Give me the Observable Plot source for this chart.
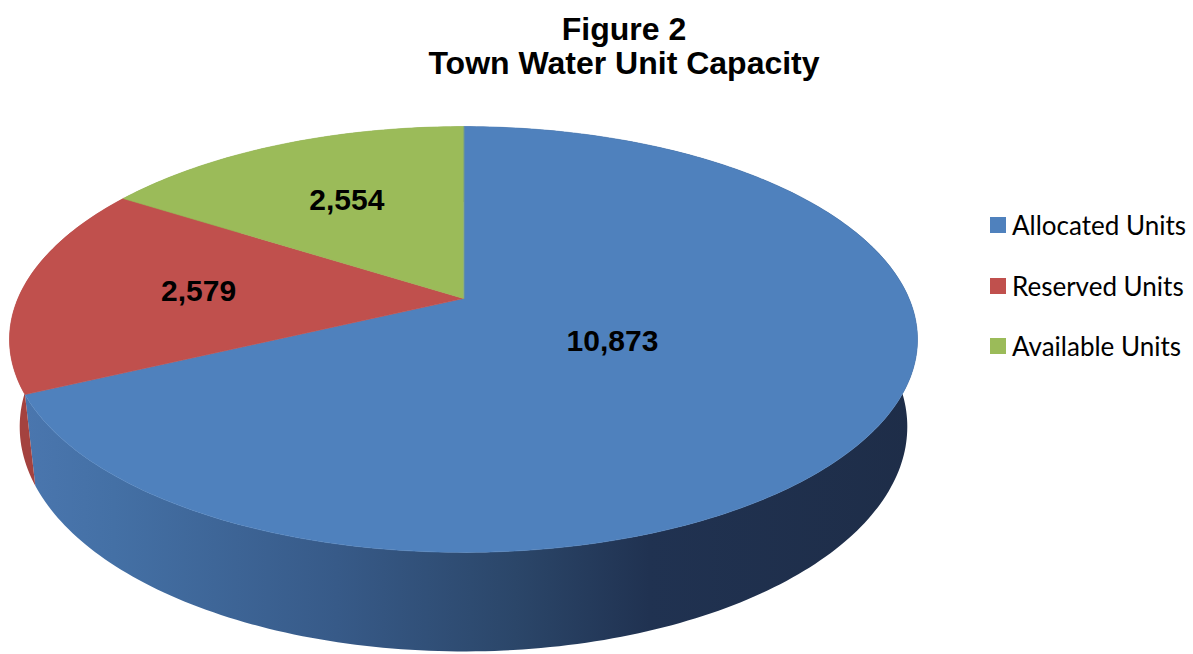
<!DOCTYPE html>
<html><head><meta charset="utf-8">
<script src="https://cdn.jsdelivr.net/npm/d3@7"></script>
<script src="https://cdn.jsdelivr.net/npm/@observablehq/plot@0.6"></script>
<style>
html,body{margin:0;padding:0;background:#fff;overflow:hidden}
#wrap{position:relative;width:1193px;height:654px}
#title{position:relative;height:100px;font-family:"Liberation Sans",Arial,sans-serif;font-weight:bold;font-size:32px;line-height:31px;color:#000}
#title div{position:absolute;left:624px;transform:translateX(-50%);white-space:nowrap}
#legend{position:absolute;left:990px;top:0;width:203px;height:654px;font-family:Lato,"Open Sans",sans-serif;font-size:26px;color:#000}
.row{position:absolute;left:0;height:30px;display:flex;align-items:center;white-space:nowrap}
.sw{width:16px;height:16px;margin-right:6px;flex:none}
</style></head>
<body><div id="wrap">
<div id="title"><div style="top:14px">Figure 2</div><div style="top:48px">Town Water Unit Capacity</div></div>
<div id="chart"></div>
<div id="legend"></div>
</div>
<script>
// ---- data ----
const categories = ["Allocated Units", "Reserved Units", "Available Units"];
const values = [10873, 2579, 2554];
const valueLabels = ["10,873", "2,579", "2,554"];
const topColors = ["#4f81bd", "#c0504d", "#9bbb59"];
const wallColors = ["url(#sideBlue)", "#a4423f", "#7f9a48"];

// ---- 3D perspective view (style) ----
const tilt = 27.4 * Math.PI / 180, cs = Math.cos(tilt), sn = Math.sin(tilt);
const dist = 4.613, thick = 0.222;
const F = Math.sqrt(dist * dist - cs * cs);
function proj(X, Y, Z) {
  const yc = Y * cs + Z * sn, d = dist + Z * cs - Y * sn;
  return [F * X / d, -F * yc / d];
}

const arcs = d3.pie().sort(null).value(d => d).startAngle(0).endAngle(2 * Math.PI)(values);
const topFaces = [], walls = [], labelPts = [];
arcs.forEach((p, i) => {
  const a0 = p.startAngle, a1 = p.endAngle;
  const n = Math.max(6, Math.ceil((a1 - a0) / (2 * Math.PI) * 360));
  const angs = d3.range(n + 1).map(k => a0 + (a1 - a0) * k / n);
  const face = [];
  const [cu, cv] = proj(0, 0, 0);
  face.push({u: cu, v: cv});
  angs.forEach(a => { const [u, v] = proj(Math.sin(a), 0, Math.cos(a)); face.push({u, v}); });
  topFaces.push(face);
  const wall = [];
  angs.forEach(a => { const [u, v] = proj(Math.sin(a), 0, Math.cos(a)); wall.push({u, v}); });
  angs.slice().reverse().forEach(a => { const [u, v] = proj(Math.sin(a), -thick, Math.cos(a)); wall.push({u, v}); });
  walls.push(wall);
  const share = (a1 - a0) / (2 * Math.PI);
  const r = share > 0.5 ? 0.38 : 0.6;
  const m = (a0 + a1) / 2;
  const [lu, lv] = proj(r * Math.sin(m), 0, r * Math.cos(m));
  labelPts.push({u: lu, v: lv, text: valueLabels[i]});
});

const svgH = 554, cx = 463, cy = 198, R = 454;
const plot = Plot.plot({
  width: 1193, height: svgH, margin: 0,
  x: {domain: [-1, 1], range: [cx - R, cx + R], axis: null},
  y: {domain: [-1, 1], range: [cy - R, cy + R], axis: null},
  marks: [
    ...walls.map((w, i) => Plot.line(w, {x: "u", y: "v", fill: wallColors[i], stroke: "none", curve: "linear-closed"})),
    ...topFaces.map((f, i) => Plot.line(f, {x: "u", y: "v", fill: topColors[i], stroke: topColors[i], strokeWidth: 0.6, curve: "linear-closed"})),
    Plot.text(labelPts, {x: "u", y: "v", text: "text", fontSize: 30, fontWeight: "bold", fontFamily: "Liberation Sans, Arial, sans-serif", fill: "#000"})
  ]
});
document.getElementById("chart").appendChild(plot);
const defs = d3.select(plot).insert("defs", ":first-child");
const grad = defs.append("linearGradient").attr("id", "sideBlue").attr("x1", 0).attr("x2", 1).attr("y1", 0).attr("y2", 0);
[[0, "#4a76ae"], [0.1, "#4470a5"], [0.35, "#375a88"], [0.55, "#2b4669"], [0.7, "#203251"], [1, "#1e2d48"]]
  .forEach(([o, c]) => grad.append("stop").attr("offset", o).attr("stop-color", c));

// ---- legend ----
const legend = d3.select("#legend");
categories.forEach((c, i) => {
  const row = legend.append("div").attr("class", "row").style("top", (227 - 17 + i * 60.5) + "px");
  row.append("div").attr("class", "sw").style("background", topColors[i]);
  row.append("span").text(c);
});
</script>
</body></html>
